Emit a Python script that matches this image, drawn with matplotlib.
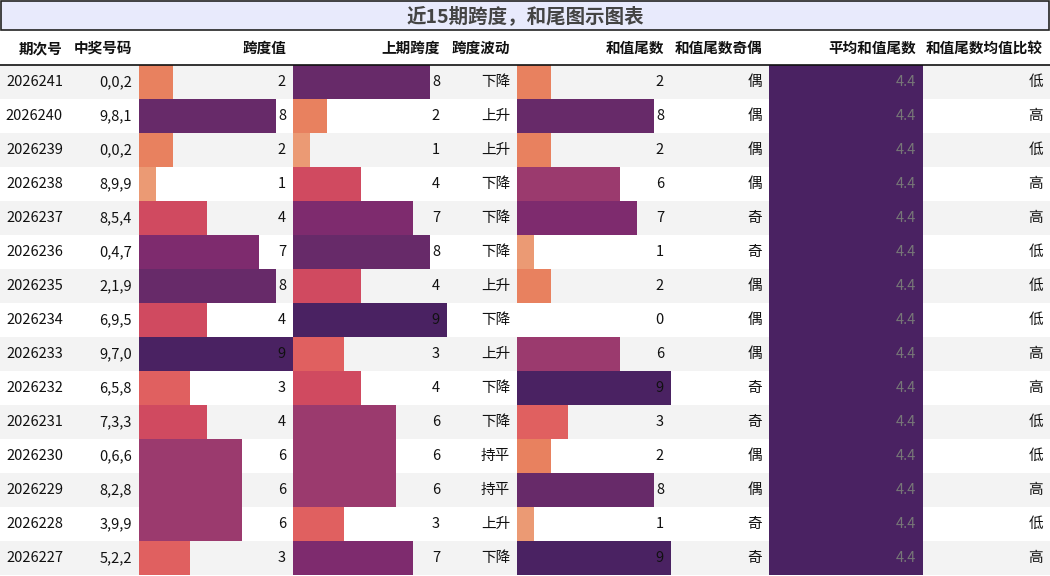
import matplotlib
matplotlib.use("Agg")
import matplotlib.pyplot as plt
import numpy as np
from matplotlib.colors import LinearSegmentedColormap

plt.rcParams['font.family'] = ['Noto Sans CJK SC', 'DejaVu Sans']

periods = ["2026241","2026240","2026239","2026238","2026237","2026236","2026235","2026234",
           "2026233","2026232","2026231","2026230","2026229","2026228","2026227"]
numbers = ["0,0,2","9,8,1","0,0,2","8,9,9","8,5,4","0,4,7","2,1,9","6,9,5",
           "9,7,0","6,5,8","7,3,3","0,6,6","8,2,8","3,9,9","5,2,2"]
span = [2,8,2,1,4,7,8,4,9,3,4,6,6,6,3]
prev_span = [8,2,1,4,7,8,4,9,3,4,6,6,6,3,7]
trend = ["下降","上升","上升","下降","下降","下降","上升","下降","上升","下降","下降","持平","持平","上升","下降"]
tail = [2,8,2,6,7,1,2,0,6,9,3,2,8,1,9]
parity = ["偶","偶","偶","偶","奇","奇","偶","偶","偶","奇","奇","偶","偶","奇","奇"]
avg_tail = [4.4]*15
compare = ["低","高","低","高","高","低","低","低","高","高","低","低","高","低","高"]
headers = ["期次号","中奖号码","跨度值","上期跨度","跨度波动","和值尾数","和值尾数奇偶","平均和值尾数","和值尾数均值比较"]
title = "近15期跨度，和尾图示图表"

cmap = LinearSegmentedColormap.from_list("c", [
    (0.0, "#f0b088"), (1/9, "#eb9a74"), (2/9, "#e8805f"), (3/9, "#e06060"), (4/9, "#d04a60"),
    (5/9, "#b8416a"), (6/9, "#9b3a6e"), (7/9, "#7f2b6e"), (8/9, "#672a69"), (1.0, "#4a2262")])

W, H = 1050, 576
fig = plt.figure(figsize=(10.5, 5.76), dpi=100)
ax = fig.add_axes([0, 0, 1, 1])
ax.set_xlim(0, W); ax.set_ylim(H, 0); ax.axis('off')

edges = [0, 70, 139, 293, 447, 517, 671, 769, 923, 1050]
row_h = 34; top = 65
# title
ax.add_patch(plt.Rectangle((1, 1), W-2, 29, facecolor="#e8eafc", edgecolor="#222", lw=1.2))
ax.text(W/2, 16, title, ha='center', va='center', fontsize=14, fontweight='bold', color='#444')
# headers
for i, h in enumerate(headers):
    ax.text(edges[i+1]-7, 48, h, ha='right', va='center', fontsize=10.5, fontweight='bold', color='#111')
ax.plot([0, W], [64.5, 64.5], color='#111', lw=1.2)

cols = {2: (span, 9), 3: (prev_span, 9), 5: (tail, 9), 7: (avg_tail, max(avg_tail))}
text_cols = {0: periods, 1: numbers, 4: trend, 6: parity, 8: compare}
for r in range(15):
    y0 = top + r*row_h
    ax.add_patch(plt.Rectangle((0, y0), W, row_h, facecolor="#f3f3f3" if r % 2 == 0 else "white", lw=0))
    yc = y0 + row_h/2
    for c, vals in text_cols.items():
        ax.text(edges[c+1]-7, yc, vals[r], ha='right', va='center', fontsize=10.5, color='#111')
    for c, (vals, mx) in cols.items():
        v = vals[r]
        w = (edges[c+1]-edges[c]) * v / mx
        if v > 0:
            ax.barh(yc, w, height=row_h, left=edges[c], color=cmap(v/mx), lw=0)
        lab = f"{v:g}"
        ax.text(edges[c+1]-7, yc, lab, ha='right', va='center', fontsize=10.5,
                color='#777' if c == 7 else '#111')

fig.savefig("out.png", dpi=100)
